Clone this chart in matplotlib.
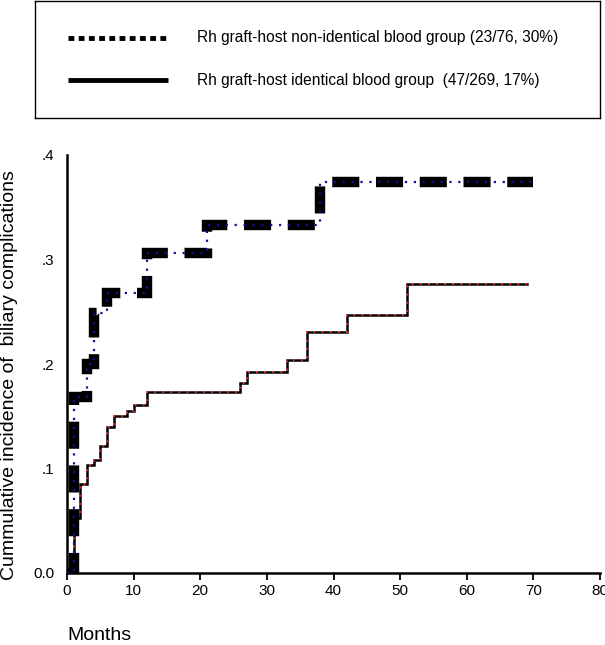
import matplotlib
matplotlib.use("Agg")
import matplotlib.pyplot as plt

plt.rcParams['font.family'] = ['Liberation Sans', 'DejaVu Sans']

# Rh graft-host non-identical blood group (23/76)
meses_no_ident = [0, 1, 3, 4, 6, 12, 21, 38, 70]
inc_no_ident = [0.0, 0.168, 0.200, 0.249, 0.268, 0.306, 0.333, 0.374, 0.374]

# Rh graft-host identical blood group (47/269)
meses_ident = [0, 1, 2, 3, 4, 5, 6, 7, 9, 10, 12, 26, 27, 33, 36, 42, 51, 69]
inc_ident = [0.0, 0.053, 0.085, 0.103, 0.108, 0.122, 0.140, 0.150, 0.155, 0.161,
             0.173, 0.182, 0.192, 0.204, 0.231, 0.247, 0.277, 0.277]

etiquetas = ["Rh graft-host non-identical blood group (23/76, 30%)",
             "Rh graft-host identical blood group  (47/269, 17%)"]
xticks = [0, 10, 20, 30, 40, 50, 60, 70, 80]
yticks = [0.0, 0.1, 0.2, 0.3, 0.4]
ytick_labels = ["0.0", ".1", ".2", ".3", ".4"]

fig = plt.figure(figsize=(6.05, 6.45), dpi=100)

#------------------------------------------------------------------
# caja de leyenda arriba
axl = fig.add_axes([35/605, 1 - 118/645, 565/605, 117/645])
axl.set_xlim(0, 1)
axl.set_ylim(0, 1)
axl.set_xticks([])
axl.set_yticks([])
for s in axl.spines.values():
    s.set_linewidth(1.0)
    s.set_color('black')
axl.plot([0.058, 0.235], [0.686, 0.686], color='black', lw=3.5,
         linestyle=(0, (1.2, 0.9)), solid_capstyle='butt', dash_capstyle='butt')
axl.plot([0.058, 0.235], [0.322, 0.322], color='black', lw=3.5, solid_capstyle='butt')
axl.text(0.287, 0.686, etiquetas[0], fontsize=11.2, va='center', ha='left')
axl.text(0.287, 0.322, etiquetas[1], fontsize=11.2, va='center', ha='left')

#------------------------------------------------------------------
# grafica principal
ax = fig.add_axes([67/605, 1 - 573/645, 533/605, (573 - 155)/645])

# curva no identica: trazo grueso discontinuo + puntos azules
ax.step(meses_no_ident, inc_no_ident, where='post', color='black', lw=7.5,
        linestyle=(0, (2.6, 1.6)), dash_capstyle='butt', dash_joinstyle='miter', zorder=3)
ax.step(meses_no_ident, inc_no_ident, where='post', color='#1010a0', lw=1.6,
        linestyle=(0, (1, 3)), zorder=4)

# curva identica: linea fina negra + puntos rojos
ax.step(meses_ident, inc_ident, where='post', color='black', lw=1.8,
        solid_joinstyle='miter', zorder=2)
ax.step(meses_ident, inc_ident, where='post', color='#ff3030', lw=1.3,
        linestyle=(0, (1, 3.5)), zorder=2.5)

ax.set_xlim(0, 80)
ax.set_ylim(0, 0.4)
ax.set_xticks(xticks)
ax.set_yticks(yticks)
ax.set_yticklabels(ytick_labels)
ax.tick_params(axis='x', length=5, width=1.3, direction='out', labelsize=11, pad=3)
ax.tick_params(axis='y', length=0, labelsize=11, pad=9)
for lado in ['top', 'right']:
    ax.spines[lado].set_visible(False)
for lado in ['left', 'bottom']:
    ax.spines[lado].set_linewidth(1.8)
ax.patch.set_alpha(0)

fig.text(10/605, 1 - 375/645, "Cummulative incidence of  biliary complications",
         rotation=90, fontsize=14, ha='center', va='center')
fig.text(67/605, 1 - 635/645, "Months", fontsize=14, ha='left', va='center')

fig.savefig("out.png", dpi=100)
